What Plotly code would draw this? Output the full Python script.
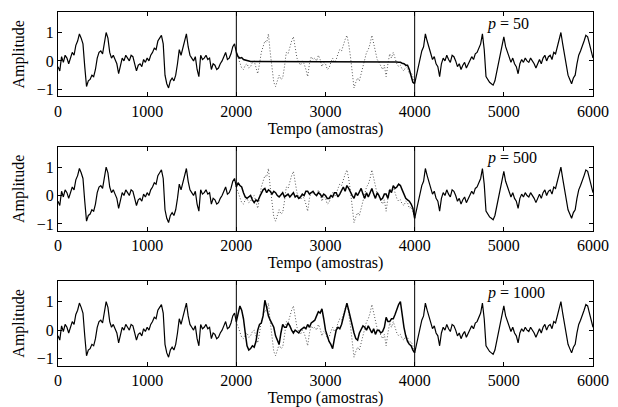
import numpy as np
import plotly.graph_objects as go

# ---------------- data (step = 20 samples) ----------------
step = 20
# original signal, samples 0..2000
seg_a = [-0.2, -0.35, 0.15, -0.05, 0.2, 0.1, -0.1, 0.15, 0.3, 0.2,
         0.55, 0.7, 0.95, 0.8, 0.6, -0.2, -0.9, -0.7, -0.65, -0.5,
         -0.55, -0.3, 0.1, 0.3, 0.35, 0.25, 0.6, 1.0, 0.8, 0.3,
         0.1, 0.2, 0.05, -0.1, -0.45, -0.1, 0.1, 0.0, 0.2, 0.1,
         0.0, 0.2, 0.15, -0.1, -0.35, -0.15, -0.1, -0.2, 0.05, -0.05,
         0.1, 0.0, 0.2, 0.3, 0.45, 0.4, 0.7, 0.8, 0.9, 0.6,
         -0.5, -0.8, -0.95, -0.7, -0.6, -0.7, -0.5, -0.1, 0.4, 0.2,
         0.45, 0.6, 0.95, 0.5, 0.2, 0.1, 0.0, 0.15, -0.3, -0.55,
         0.2, 0.05, 0.1, 0.2, 0.05, 0.1, -0.3, -0.1, -0.15, -0.3,
         -0.25, -0.1, 0.0, 0.15, 0.3, 0.05, 0.1, 0.25, 0.5, 0.6,
         0.3]
# original signal inside the gap, samples 2020..3980 (drawn dotted)
seg_b = [0.1, -0.1, -0.25, -0.3, -0.15, -0.1, -0.25, -0.2, -0.05, 0.0,
         -0.2, -0.45, -0.1, 0.3, 0.5, 0.7, 0.65, 0.95, 0.3, -0.3,
         -0.75, -0.9, -0.7, -0.5, -0.65, -0.6, -0.2, 0.3, 0.25, 0.5,
         0.7, 0.85, 0.5, 0.1, -0.05, -0.15, 0.0, -0.1, -0.3, -0.55,
         -0.1, 0.15, 0.05, 0.1, 0.0, 0.2, 0.05, -0.2, -0.05, -0.1,
         -0.3, -0.25, -0.05, 0.1, -0.05, 0.05, 0.25, 0.4, 0.35, 0.6,
         0.75, 0.9, 0.6, 0.15, -0.5, -0.95, -0.75, -0.6, -0.7, -0.45,
         -0.15, 0.1, 0.3, 0.4, 0.6, 0.9, 0.6, 0.3, 0.05, -0.05,
         -0.2, -0.3, -0.15, -0.55, -0.1, 0.25, 0.1, 0.3, 0.1, -0.1,
         -0.2, -0.15, -0.3, -0.35, -0.2, -0.25, -0.45, -0.4, -0.55]
# original signal, samples 4000..6000
seg_c = [-0.8, -0.5, -0.2, 0.1, 0.35, 0.5, 0.95, 0.7, 0.45, 0.2,
         0.05, 0.15, -0.1, -0.2, -0.55, -0.1, 0.1, 0.0, 0.2, 0.05,
         -0.05, 0.2, 0.15, 0.0, -0.2, -0.1, -0.3, -0.15, -0.05, -0.25,
         -0.1, 0.05, 0.15, 0.05, 0.25, 0.3, 0.45, 0.6, 0.95, 0.4,
         -0.55, -0.65, -0.75, -0.8, -0.85, -0.7, -0.4, -0.1, 0.3, 0.5,
         0.85, 0.5, 0.3, 0.1, -0.05, 0.1, -0.1, -0.2, -0.45, -0.1,
         0.05, -0.05, 0.1, 0.0, -0.05, 0.1, 0.0, -0.1, -0.25, -0.1,
         0.05, -0.1, 0.1, 0.2, 0.0, 0.15, 0.2, 0.05, 0.3, 0.25,
         0.5, 0.65, 1.0, 0.6, 0.2, -0.2, -0.5, -0.65, -0.8, -0.6,
         -0.5, -0.1, 0.2, 0.35, 0.5, 0.7, 0.9, 0.85, 0.6, 0.3,
         0.1]
# reconstructions, samples 2000..4000
rec_p50 = [0.3, 0.15, 0.1, 0.12, 0.05, 0.03, 0.0, -0.01, -0.02, -0.02,
           -0.02, -0.02, -0.02, -0.02, -0.02, -0.02, -0.02, -0.02, -0.02, -0.02,
           -0.02, -0.02, -0.02, -0.02, -0.02, -0.02, -0.02, -0.02, -0.02, -0.02,
           -0.02, -0.02, -0.02, -0.02, -0.02, -0.02, -0.02, -0.02, -0.02, -0.02,
           -0.02, -0.02, -0.02, -0.02, -0.02, -0.02, -0.02, -0.02, -0.02, -0.02,
           -0.02, -0.02, -0.02, -0.02, -0.02, -0.02, -0.02, -0.02, -0.02, -0.02,
           -0.02, -0.02, -0.02, -0.02, -0.02, -0.02, -0.02, -0.02, -0.02, -0.02,
           -0.02, -0.02, -0.02, -0.02, -0.02, -0.02, -0.02, -0.02, -0.02, -0.02,
           -0.02, -0.02, -0.02, -0.02, -0.03, -0.03, -0.03, -0.03, -0.04, -0.04,
           -0.04, -0.05, -0.05, -0.08, -0.1, -0.15, -0.15, -0.3, -0.5, -0.75,
           -0.8]
rec_p500 = [0.3, 0.45, 0.35, 0.3, 0.1, -0.05, -0.1, -0.05, 0.0, -0.15,
            -0.25, -0.15, -0.2, -0.05, 0.1, 0.2, 0.25, 0.1, 0.2, 0.15,
            0.05, 0.15, 0.1, 0.0, -0.05, 0.05, 0.1, -0.05, 0.0, 0.05,
            -0.05, 0.05, 0.1, -0.05, 0.0, -0.1, -0.05, 0.05, 0.0, 0.15,
            0.15, 0.05, 0.1, 0.15, 0.05, 0.0, 0.1, 0.05, -0.05, 0.05,
            0.0, -0.1, -0.1, 0.0, -0.05, 0.1, 0.1, -0.05, 0.05, 0.15,
            0.3, 0.15, 0.35, 0.25, 0.1, 0.0, -0.1, 0.1, 0.0, 0.15,
            0.25, 0.05, -0.1, 0.1, -0.05, 0.1, 0.25, 0.05, -0.1, 0.1,
            0.0, -0.15, -0.1, 0.05, 0.05, -0.1, 0.2, 0.1, 0.35, 0.25,
            0.3, 0.4, 0.35, 0.2, 0.05, -0.1, -0.15, -0.2, -0.3, -0.45,
            -0.8]
rec_p1000 = [0.3, 0.6, 0.85, 0.7, 0.4, -0.1, -0.55, -0.7, -0.65, -0.55,
             -0.6, -0.4, 0.0, 0.2, 0.25, 0.5, 1.05, 0.8, 0.5, 0.35,
             0.2, 0.1, -0.2, -0.35, -0.5, -0.1, 0.2, 0.1, 0.1, 0.25,
             0.15, 0.0, -0.1, 0.0, -0.05, -0.1, 0.0, 0.05, 0.1, 0.05,
             0.2, 0.1, 0.25, 0.3, 0.35, 0.5, 0.65, 0.6, 0.75, 0.4,
             0.0, -0.2, -0.4, -0.5, -0.65, -0.3, 0.0, 0.1, 0.05, 0.2,
             0.45, 0.7, 0.95, 0.7, 0.4, 0.1, -0.1, -0.3, -0.35, -0.1,
             0.05, 0.15, 0.1, 0.0, 0.15, 0.05, -0.1, 0.05, -0.15, 0.0,
             0.0, -0.1, -0.05, 0.1, 0.45, 0.3, 0.3, 0.4, 0.4, 0.55,
             0.75, 0.9, 1.0, 0.5, 0.1, -0.2, -0.4, -0.5, -0.55, -0.7,
             -0.8]
p_values = ["50", "500", "1000"]
x_ticks = [0, 1000, 2000, 3000, 4000, 5000, 6000]
y_ticks = [-1, 0, 1]
gap_edges = [2000, 4000]

# ---------------- figure ----------------
t_a = 0 + step * np.arange(len(seg_a))
t_c = 4000 + step * np.arange(len(seg_c))
orig_mid = [seg_a[-1]] + seg_b + [seg_c[0]]
t_mid = 2000 + step * np.arange(len(orig_mid))
recs = [rec_p50, rec_p500, rec_p1000]

FONT = "Liberation Serif, Times New Roman, serif"
domains = [[0.7629, 0.9705], [0.4322, 0.6398], [0.1015, 0.3091]]

fig = go.Figure()
for i in range(3):
    xa = "x" if i == 0 else f"x{i+1}"
    ya = "y" if i == 0 else f"y{i+1}"
    fig.add_trace(go.Scatter(x=t_mid, y=orig_mid, mode="lines", xaxis=xa, yaxis=ya,
                             line=dict(color="#555555", width=1, dash="1px,2px"),
                             showlegend=False))
    fig.add_trace(go.Scatter(x=t_a, y=seg_a, mode="lines", xaxis=xa, yaxis=ya,
                             line=dict(color="black", width=1.2), showlegend=False))
    fig.add_trace(go.Scatter(x=t_c, y=seg_c, mode="lines", xaxis=xa, yaxis=ya,
                             line=dict(color="black", width=1.2), showlegend=False))
    fig.add_trace(go.Scatter(x=t_mid, y=recs[i], mode="lines", xaxis=xa, yaxis=ya,
                             line=dict(color="black", width=1.5), showlegend=False))

layout = dict(
    width=618, height=407,
    margin=dict(l=58, r=25, t=0, b=0),
    paper_bgcolor="white", plot_bgcolor="white",
    font=dict(family=FONT, size=16, color="black"),
    shapes=[], annotations=[],
)
for i in range(3):
    xk = "xaxis" if i == 0 else f"xaxis{i+1}"
    yk = "yaxis" if i == 0 else f"yaxis{i+1}"
    xa = "x" if i == 0 else f"x{i+1}"
    ya = "y" if i == 0 else f"y{i+1}"
    layout[xk] = dict(domain=[0, 1], anchor=ya, range=[0, 6000], tickvals=x_ticks,
                      ticks="inside", ticklen=4, tickcolor="black",
                      showline=True, mirror="ticks", linecolor="black", linewidth=1,
                      showgrid=False, zeroline=False,
                      tickfont=dict(family=FONT, size=16),
                      title=dict(text="Tempo (amostras)", standoff=2,
                                 font=dict(family=FONT, size=16)))
    layout[yk] = dict(domain=domains[i], anchor=xa, range=[-1.25, 1.72], tickvals=y_ticks,
                      ticks="inside", ticklen=4, tickcolor="black",
                      showline=True, mirror="ticks", linecolor="black", linewidth=1,
                      showgrid=False, zeroline=False,
                      tickfont=dict(family=FONT, size=16),
                      title=dict(text="Amplitude", standoff=8,
                                 font=dict(family=FONT, size=16)))
    for xv in gap_edges:
        layout["shapes"].append(dict(type="line", xref=xa, yref=f"{ya} domain",
                                     x0=xv, x1=xv, y0=0, y1=1, layer="above",
                                     line=dict(color="black", width=1)))
    layout["annotations"].append(dict(text=f"<i>p</i> = {p_values[i]}", xref=xa, yref=ya,
                                      x=4790, y=1.31, xanchor="left", yanchor="middle",
                                      showarrow=False, font=dict(family=FONT, size=16)))

fig.update_layout(**layout)
fig.write_html("out.html")
